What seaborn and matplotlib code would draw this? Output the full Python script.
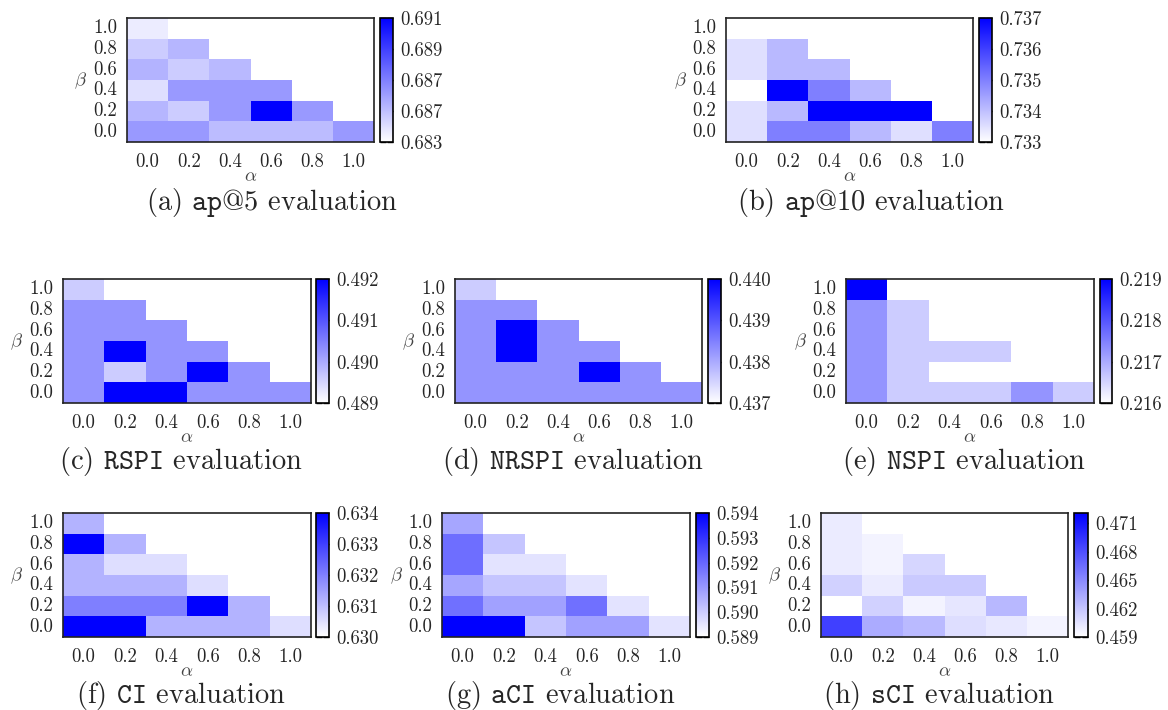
import numpy as np
import pandas as pd
import matplotlib
matplotlib.use("Agg")
import matplotlib.pyplot as plt
import seaborn as sns
from matplotlib.colors import LinearSegmentedColormap

sns.set_theme(style="white")
plt.rcParams["font.family"] = ["cmr10", "DejaVu Serif"]
plt.rcParams["mathtext.fontset"] = "cm"
plt.rcParams["axes.formatter.use_mathtext"] = True

# ---------------- data ----------------
alpha_labels = ["0.0", "0.2", "0.4", "0.6", "0.8", "1.0"]
beta_labels = ["1.0", "0.8", "0.6", "0.4", "0.2", "0.0"]   # top -> bottom
N = np.nan

ap5 = [[0.6836, N, N, N, N, N],
       [0.6846, 0.6853, N, N, N, N],
       [0.6854, 0.6846, 0.6852, N, N, N],
       [0.6840, 0.6862, 0.6862, 0.6862, N, N],
       [0.6853, 0.6846, 0.6862, 0.6910, 0.6862, N],
       [0.6862, 0.6862, 0.6851, 0.6851, 0.6851, 0.6862]]
ap5_ticks = [0.683, 0.685, 0.687, 0.689, 0.691]
ap5_ticklabels = ["0.683", "0.687", "0.687", "0.689", "0.691"]

ap10 = [[0.7330, N, N, N, N, N],
        [0.7335, 0.7341, N, N, N, N],
        [0.7335, 0.7341, 0.7341, N, N, N],
        [0.7330, 0.7370, 0.7350, 0.7341, N, N],
        [0.7335, 0.7341, 0.7370, 0.7370, 0.7370, N],
        [0.7335, 0.7350, 0.7350, 0.7341, 0.7335, 0.7350]]
ap10_ticks = [0.733, 0.734, 0.735, 0.736, 0.737]
ap10_ticklabels = ["0.733", "0.734", "0.735", "0.736", "0.737"]

rspi = [[0.4896, N, N, N, N, N],
        [0.49026, 0.49026, N, N, N, N],
        [0.49026, 0.49026, 0.49026, N, N, N],
        [0.49026, 0.4920, 0.49026, 0.49026, N, N],
        [0.49026, 0.4896, 0.49026, 0.4920, 0.49026, N],
        [0.49026, 0.4920, 0.4920, 0.49026, 0.49026, 0.49026]]
rspi_ticks = [0.489, 0.490, 0.491, 0.492]
rspi_ticklabels = ["0.489", "0.490", "0.491", "0.492"]

nrspi = [[0.4376, N, N, N, N, N],
         [0.43826, 0.43826, N, N, N, N],
         [0.43826, 0.4400, 0.43826, N, N, N],
         [0.43826, 0.4400, 0.43826, 0.43826, N, N],
         [0.43826, 0.43826, 0.43826, 0.4400, 0.43826, N],
         [0.43826, 0.43826, 0.43826, 0.43826, 0.43826, 0.43826]]
nrspi_ticks = [0.437, 0.438, 0.439, 0.440]
nrspi_ticklabels = ["0.437", "0.438", "0.439", "0.440"]

nspi = [[0.2190, N, N, N, N, N],
        [0.21726, 0.2166, N, N, N, N],
        [0.21726, 0.2166, 0.2160, N, N, N],
        [0.21726, 0.2166, 0.2166, 0.2166, N, N],
        [0.21726, 0.2166, 0.2160, 0.2160, 0.2160, N],
        [0.21726, 0.2166, 0.2166, 0.2166, 0.21726, 0.2166]]
nspi_ticks = [0.216, 0.217, 0.218, 0.219]
nspi_ticklabels = ["0.216", "0.217", "0.218", "0.219"]

ci = [[0.6312, N, N, N, N, N],
      [0.6340, 0.6312, N, N, N, N],
      [0.6312, 0.63052, 0.63052, N, N, N],
      [0.6312, 0.6312, 0.6312, 0.63052, N, N],
      [0.6320, 0.6320, 0.6320, 0.6340, 0.6312, N],
      [0.6340, 0.6340, 0.6312, 0.6312, 0.6312, 0.63052]]
ci_ticks = [0.630, 0.631, 0.632, 0.633, 0.634]
ci_ticklabels = ["0.630", "0.631", "0.632", "0.633", "0.634"]

aci = [[0.59075, N, N, N, N, N],
       [0.59185, 0.59015, N, N, N, N],
       [0.59185, 0.58955, 0.58955, N, N, N],
       [0.59075, 0.59015, 0.59015, 0.58955, N, N],
       [0.59180, 0.59085, 0.59085, 0.59180, 0.58955, N],
       [0.5940, 0.5940, 0.59015, 0.59085, 0.59085, 0.58955]]
aci_ticks = [0.589, 0.590, 0.591, 0.592, 0.593, 0.594]
aci_ticklabels = ["0.589", "0.590", "0.591", "0.592", "0.593", "0.594"]

sci = [[0.46005, N, N, N, N, N],
       [0.46005, 0.45966, N, N, N, N],
       [0.46005, 0.45966, 0.4611, N, N, N],
       [0.46136, 0.46005, 0.46175, 0.46175, N, N],
       [0.4590, 0.46136, 0.45966, 0.4603, 0.46267, N],
       [0.46882, 0.46332, 0.46254, 0.4607, 0.46018, 0.45966]]
sci_ticks = [0.459, 0.462, 0.465, 0.468, 0.471]
sci_ticklabels = ["0.459", "0.462", "0.465", "0.468", "0.471"]

captions = [r"(a) $\mathtt{ap@5}$ evaluation", r"(b) $\mathtt{ap@10}$ evaluation",
            r"(c) $\mathtt{RSPI}$ evaluation", r"(d) $\mathtt{NRSPI}$ evaluation",
            r"(e) $\mathtt{NSPI}$ evaluation", r"(f) $\mathtt{CI}$ evaluation",
            r"(g) $\mathtt{aCI}$ evaluation", r"(h) $\mathtt{sCI}$ evaluation"]

# ---------------- layout (pixels) ----------------
W, H = 1168, 710
panels = [
    # data, vmin, vmax, ticks, labels, heatmap box, colorbar box, caption center
    (ap5, 0.683, 0.691, ap5_ticks, ap5_ticklabels, (127, 18, 374, 142), (380, 18, 393, 142), (272, 202)),
    (ap10, 0.733, 0.737, ap10_ticks, ap10_ticklabels, (726, 18, 973, 142), (979, 18, 992, 142), (871, 202)),
    (rspi, 0.489, 0.492, rspi_ticks, rspi_ticklabels, (63, 279, 311, 403), (316, 279, 329, 403), (181, 461)),
    (nrspi, 0.437, 0.440, nrspi_ticks, nrspi_ticklabels, (455, 279, 702, 403), (708, 279, 721, 403), (573, 461)),
    (nspi, 0.216, 0.219, nspi_ticks, nspi_ticklabels, (846, 279, 1094, 403), (1100, 279, 1112, 403), (964, 461)),
    (ci, 0.630, 0.634, ci_ticks, ci_ticklabels, (63, 513, 311, 637), (316, 513, 329, 637), (181, 695)),
    (aci, 0.589, 0.594, aci_ticks, aci_ticklabels, (442, 513, 690, 637), (696, 513, 709, 637), (560, 695)),
    (sci, 0.459, 0.4721, sci_ticks, sci_ticklabels, (821, 513, 1068, 637), (1074, 513, 1088, 637), (939, 695)),
]

cmap = LinearSegmentedColormap.from_list("wb", ["#ffffff", "#0000ff"])

fig = plt.figure(figsize=(W / 100, H / 100), dpi=100)


def box(b):
    x1, y1, x2, y2 = b
    return [x1 / W, 1 - y2 / H, (x2 - x1) / W, (y2 - y1) / H]


for (vals, vmin, vmax, ticks, tlabels, hb, cb, cap), caption in zip(panels, captions):
    ax = fig.add_axes(box(hb))
    cax = fig.add_axes(box(cb))
    df = pd.DataFrame(vals, index=beta_labels, columns=alpha_labels)
    sns.heatmap(df, mask=df.isna(), cmap=cmap, vmin=vmin, vmax=vmax, ax=ax,
                cbar_ax=cax, xticklabels=alpha_labels, yticklabels=beta_labels)
    ax.set_facecolor("white")
    for s in ax.spines.values():
        s.set_visible(True)
        s.set_color("#222222")
        s.set_linewidth(1.2)
    ax.tick_params(axis="both", length=0, labelsize=13.5)
    ax.tick_params(axis="x", pad=8)
    ax.tick_params(axis="y", pad=7)
    ax.set_xticklabels(alpha_labels, rotation=0)
    ax.set_yticklabels(beta_labels, rotation=0)
    ax.set_xlabel("")
    ax.set_ylabel("")

    cbar = ax.collections[0].colorbar
    cbar.set_ticks(ticks)
    cbar.set_ticklabels(tlabels)
    cbar.outline.set_linewidth(1.2)
    cbar.outline.set_edgecolor("black")
    cax.tick_params(axis="y", direction="in", length=4, width=1, color="black",
                    left=True, right=True, labelleft=False, labelright=True,
                    labelsize=13.5, pad=5)

    x1, y1, x2, y2 = hb
    fig.text((x1 + x2) / 2 / W, 1 - (y2 + 34) / H, r"$\alpha$", ha="center",
             va="center", fontsize=13.5, color="#444444")
    fig.text((x1 - 46) / W, 1 - ((y1 + y2) / 2 + 1) / H, r"$\beta$", ha="center",
             va="center", fontsize=13.5, color="#444444")
    fig.text(cap[0] / W, 1 - cap[1] / H, caption, ha="center", va="center",
             fontsize=20.5)

fig.savefig("out.png", dpi=100, facecolor="white")
